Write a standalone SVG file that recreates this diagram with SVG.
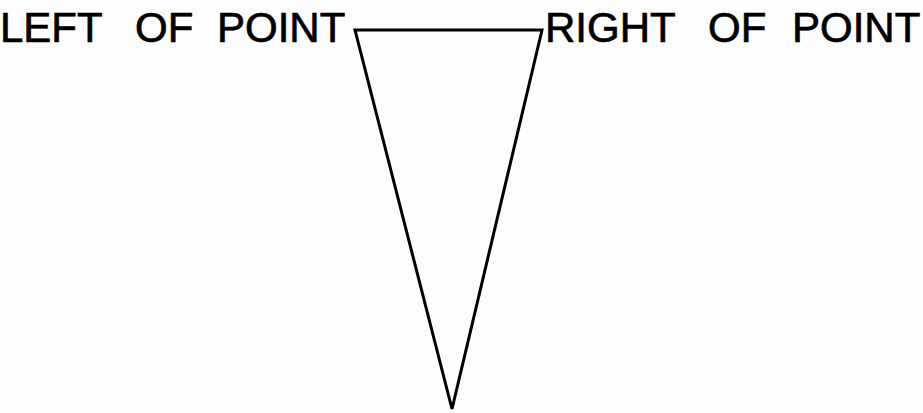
<svg xmlns="http://www.w3.org/2000/svg" width="923" height="413" viewBox="0 0 923 413">
<style>
.lbl{font-family:"Liberation Sans",Arial,sans-serif;font-size:42px;fill:#000;stroke:#000;stroke-width:0.7}
.edge{fill:none;stroke:#000;stroke-width:3;stroke-linejoin:miter}
</style>
<rect width="923" height="413" fill="#fdfdfd"/>
<g id="left-label"><text class="lbl" y="42"><tspan x="0">LEFT</tspan><tspan x="135">OF</tspan><tspan x="217">POINT</tspan></text></g>
<g id="right-label"><text class="lbl" y="42"><tspan x="545">RIGHT</tspan><tspan x="708">OF</tspan><tspan x="792">POINT</tspan></text></g>
<g id="connectors">
<polygon class="edge" points="355,30 542,30 452,409"/>
</g>
</svg>
